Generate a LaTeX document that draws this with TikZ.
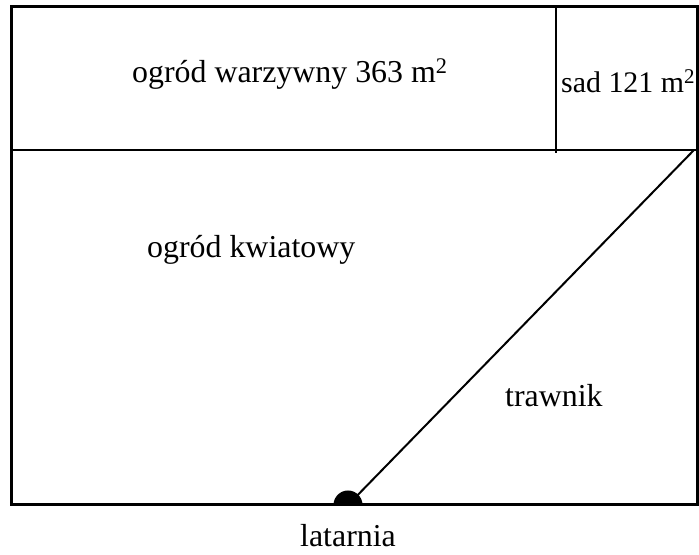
\documentclass[tikz,border=0pt]{standalone}
\usepackage{fontspec}
\setmainfont{Liberation Serif}
\begin{document}
\begin{tikzpicture}[x=1bp,y=1bp,
  lbl/.style={inner sep=0pt,font=\fontsize{32}{38}\selectfont},
  outer/.style={line width=3bp},
  inner/.style={line width=2bp}]
\useasboundingbox (0,0) rectangle (699,555);
\coordinate (tl) at (11,548);
\coordinate (br) at (697,50);
\coordinate (ml) at (11,405);
\coordinate (mr) at (697,405);
\coordinate (vt) at (556,548);
\coordinate (vb) at (556,402);
\coordinate (lamp) at (348,50);
\coordinate (corner) at (694,405);
\draw[outer] (tl) rectangle (br);
\draw[inner] (ml) -- (mr);
\draw[inner] (vt) -- (vb);
\draw[inner] (lamp) -- (corner);
\fill (lamp) ++(-14.5,0) arc[start angle=180,end angle=0,radius=14.5] -- cycle;
\node[lbl,anchor=base west] (veg) at (132,472) {ogród warzywny 363 m\textsuperscript{2}};
\node[lbl,anchor=base west,font=\fontsize{30}{36}\selectfont] (sad) at (561,462) {sad 121 m\textsuperscript{2}};
\node[lbl,anchor=base west] (flower) at (147,297) {ogród kwiatowy};
\node[lbl,anchor=base west] (lawn) at (505,148) {trawnik};
\node[lbl,anchor=base] (lat) at (348,8) {latarnia};
\end{tikzpicture}
\end{document}
